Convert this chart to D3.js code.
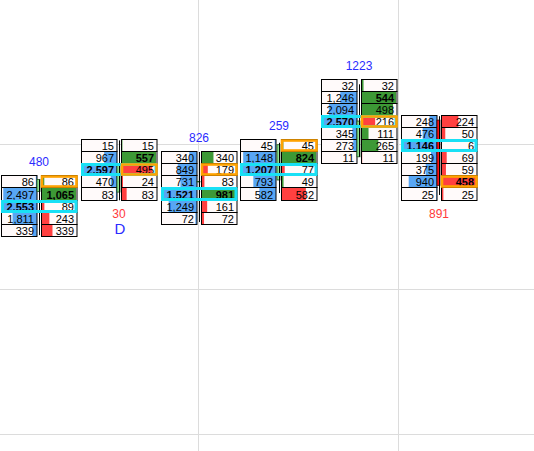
<!DOCTYPE html>
<html><head><meta charset="utf-8">
<script src="https://cdn.jsdelivr.net/npm/d3@7"></script>
<style>html,body{margin:0;padding:0;background:#fff;overflow:hidden}</style>
</head><body><svg id="c" width="534" height="451"></svg>
<script>
// ---- data ----
const times = ["09:56", "09:58", "10:00", "10:02", "10:04", "10:06"];
const topPrices = [4199.25, 4200.00, 4199.75, 4200.00, 4201.25, 4200.50];
const volumes = [
  [86, 2497, 2553, 1811, 339],
  [15, 967, 2597, 470, 83],
  [340, 849, 731, 1521, 1249, 72],
  [45, 1148, 1207, 793, 582],
  [32, 1246, 2094, 2570, 345, 273, 11],
  [248, 476, 1146, 199, 375, 940, 25]
];
const deltas = [
  [86, 1065, -89, -243, -339],
  [15, 557, -495, -24, -83],
  [340, -179, -83, 981, -161, -72],
  [45, 824, -77, 49, -582],
  [32, 544, 498, -216, 111, 265, -11],
  [-224, -50, -6, -69, -59, -458, -25]
];
const highlightRows = [0, 2, 1, 0, 3, 5];
const opens  = [4199.04, 4199.03, 4199.25, 4199.28, 4199.76, 4200.52];
const closes = [4199.29, 4199.61, 4199.25, 4200.01, 4200.50, 4199.17];
const highs  = [4199.29, 4200.10, 4199.86, 4200.05, 4201.26, 4200.60];
const lows   = [4198.14, 4198.86, 4198.41, 4199.01, 4199.76, 4198.97];
const markers = ["", "D", "", "", "", ""];
const priceGrid = [4200, 4197, 4194];
const tickSize = 0.25;

// ---- setup ----
const W = 534, H = 451;
const svg = d3.select("#c");
const parse = d3.timeParse("%H:%M");
const x = d3.scaleTime().domain([parse("09:56"), parse("10:06")]).range([38.5, 438.5]);
const y = d3.scaleLinear().domain([4200, 4197]).range([145.2, 290.2]);
const rh = Math.abs(y(0) - y(tickSize));

const C = {
  grid: "#dcdcdc", cellBg: "#fffafa", blue: "#58a6f4", green: "#3d9936", red: "#ff4040",
  cyan: "#19e0f5", orange: "#ffa200", up: "#8fe38f", down: "#ff1414",
  posLabel: "#2b2bff", negLabel: "#ff3a3a"
};

// gridlines
const xg = x.copy().domain([x.invert(0), x.invert(W)]).ticks(d3.timeMinute.every(5));
svg.append("g").selectAll("line").data(xg).join("line")
  .attr("x1", d => Math.floor(x(d)) + 0.5).attr("x2", d => Math.floor(x(d)) + 0.5)
  .attr("y1", 0).attr("y2", H).attr("stroke", C.grid);
svg.append("g").selectAll("line").data(priceGrid).join("line")
  .attr("y1", d => Math.floor(y(d)) - 0.5).attr("y2", d => Math.floor(y(d)) - 0.5)
  .attr("x1", 0).attr("x2", W).attr("stroke", C.grid);

const font = "'Liberation Sans', Arial, sans-serif";
const colW = 35.5, gap = 2.5;

times.forEach((t, i) => {
  const cx = x(parse(t));
  const g = svg.append("g");
  const vols = volumes[i], dls = deltas[i];
  const vMax = d3.max(vols), dMax = d3.max(dls, d => Math.abs(d));
  const vs = d3.scaleLinear().domain([0, vMax]).range([0, colW - 1]);
  const ds = d3.scaleLinear().domain([0, dMax]).range([0, colW - 1]);
  const lx0 = Math.round(cx - gap - colW) + 0.5, lx1 = lx0 + colW;
  const rx0 = Math.round(cx + gap) + 0.5, rx1 = rx0 + colW;
  const rows = vols.map((v, j) => {
    const p = topPrices[i] - j * tickSize;
    const top = Math.round(y(p) - rh / 2) + 0.5;
    const bot = Math.round(y(p) + rh / 2) + 0.5;
    return { v, d: dls[j], top, bot, j };
  });
  const pocJ = vols.indexOf(vMax);
  const dMaxJ = dls.findIndex(d => Math.abs(d) === dMax);
  rows.forEach(r => {
    // left cell
    g.append("rect").attr("x", lx0).attr("y", r.top).attr("width", colW).attr("height", r.bot - r.top).attr("fill", C.cellBg);
    g.append("rect").attr("x", lx1 - vs(r.v)).attr("y", r.top).attr("width", vs(r.v)).attr("height", r.bot - r.top).attr("fill", C.blue);
    g.append("rect").attr("x", lx0).attr("y", r.top).attr("width", colW).attr("height", r.bot - r.top).attr("fill", "none").attr("stroke", "#000");
    g.append("text").attr("x", lx1 - 3).attr("y", r.bot - 2).attr("text-anchor", "end")
      .attr("font-family", font).attr("font-size", 11).attr("font-weight", r.j === pocJ ? "bold" : "normal")
      .attr("fill", "#000").text(d3.format(",")(r.v));
    // right cell
    g.append("rect").attr("x", rx0).attr("y", r.top).attr("width", colW).attr("height", r.bot - r.top).attr("fill", C.cellBg);
    g.append("rect").attr("x", rx0).attr("y", r.top).attr("width", ds(Math.abs(r.d))).attr("height", r.bot - r.top).attr("fill", r.d >= 0 ? C.green : C.red);
    g.append("rect").attr("x", rx0).attr("y", r.top).attr("width", colW).attr("height", r.bot - r.top).attr("fill", "none").attr("stroke", "#000");
    g.append("text").attr("x", rx1 - 3).attr("y", r.bot - 2).attr("text-anchor", "end")
      .attr("font-family", font).attr("font-size", 11).attr("font-weight", r.j === dMaxJ ? "bold" : "normal")
      .attr("fill", "#000").text(d3.format(",")(Math.abs(r.d)));
  });
  // candle
  const up = closes[i] >= opens[i];
  const bTop = y(Math.max(opens[i], closes[i])), bBot = y(Math.min(opens[i], closes[i]));
  g.append("rect").attr("x", cx - 1.5).attr("y", bTop).attr("width", 3).attr("height", Math.max(0.5, bBot - bTop))
    .attr("fill", up ? C.up : C.down).attr("stroke", up ? "#1f5a1f" : "#3a0000").attr("stroke-width", 0.8);
  g.append("line").attr("x1", Math.floor(cx) + 1.5).attr("x2", Math.floor(cx) + 1.5)
    .attr("y1", y(highs[i])).attr("y2", y(lows[i])).attr("stroke", "#000").attr("stroke-width", 1);
  // POC (cyan) and highlighted cell (orange)
  const pr = rows[pocJ];
  g.append("rect").attr("x", lx0 + 1).attr("y", pr.top + 1).attr("width", rx1 - lx0 - 2).attr("height", pr.bot - pr.top - 2)
    .attr("fill", "none").attr("stroke", C.cyan).attr("stroke-width", 3);
  const hr = rows[highlightRows[i]];
  g.append("rect").attr("x", rx0 + 0.5).attr("y", hr.top + 1).attr("width", colW - 1).attr("height", hr.bot - hr.top - 2)
    .attr("fill", "none").attr("stroke", C.orange).attr("stroke-width", 2.6);
  // bar delta label
  const sum = d3.sum(dls);
  const firstTop = rows[0].top, lastBot = rows[rows.length - 1].bot;
  g.append("text").attr("x", cx + 0.5).attr("text-anchor", "middle")
    .attr("y", sum >= 0 ? firstTop - 10 : lastBot + 17)
    .attr("font-family", "'Liberation Sans Narrow', 'Liberation Sans', Arial, sans-serif").attr("font-size", 12)
    .attr("fill", sum >= 0 ? C.posLabel : C.negLabel).text(Math.abs(sum));
  if (markers[i]) {
    g.append("text").attr("x", cx + 1.5).attr("text-anchor", "middle").attr("y", lastBot + 33)
      .attr("font-family", "'Liberation Sans Narrow', 'Liberation Sans', Arial, sans-serif").attr("font-size", 15)
      .attr("fill", C.posLabel).text(markers[i]);
  }
});
</script></body></html>
